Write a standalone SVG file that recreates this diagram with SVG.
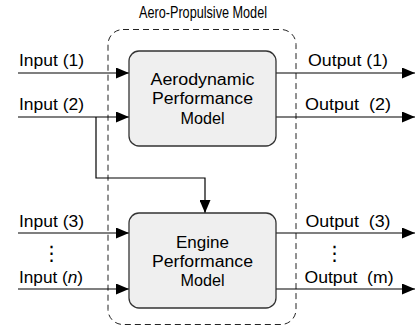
<svg xmlns="http://www.w3.org/2000/svg" width="416" height="326" viewBox="0 0 416 326">
  <style>
    .lbl { font-family: "Liberation Sans", Arial, sans-serif; font-size: 16px; fill: #000; }
    .vdots { font-family: "DejaVu Sans", sans-serif; font-size: 20px; fill: #000; text-anchor: middle; }
    .box { fill: #efefef; stroke: #333; stroke-width: 1.3; }
    .wire { fill: none; stroke: #000; stroke-width: 1.2; }
    .grp { fill: none; stroke: #222; stroke-width: 1; stroke-dasharray: 6 4; }
    .ctr { text-anchor: middle; }
  </style>
  <defs>
    <marker id="arrow" markerUnits="userSpaceOnUse" markerWidth="13" markerHeight="11" refX="13" refY="5.5" orient="auto">
      <path d="M0,0 L13,5.5 L0,11 Z" fill="#000"/>
    </marker>
  </defs>

  <rect id="background" width="416" height="326" fill="#fff"/>

  <!-- Aero-propulsive model boundary -->
  <g id="aero-propulsive-model">
    <rect class="grp" x="108" y="29.5" width="188" height="295" rx="15" ry="15"/>
    <text class="lbl" x="139" y="18" font-size="11" textLength="128" lengthAdjust="spacingAndGlyphs">Aero-Propulsive Model</text>
  </g>

  <!-- Connectors -->
  <g id="connectors">
    <line class="wire" x1="18" y1="73" x2="129" y2="73" marker-end="url(#arrow)"/>
    <line class="wire" x1="18" y1="117" x2="129" y2="117" marker-end="url(#arrow)"/>
    <polyline class="wire" points="96,117 96,178 205,178 205,213" marker-end="url(#arrow)"/>
    <line class="wire" x1="18" y1="233" x2="129" y2="233" marker-end="url(#arrow)"/>
    <line class="wire" x1="18" y1="289" x2="129" y2="289" marker-end="url(#arrow)"/>
    <line class="wire" x1="276" y1="73" x2="415" y2="73" marker-end="url(#arrow)"/>
    <line class="wire" x1="276" y1="117" x2="415" y2="117" marker-end="url(#arrow)"/>
    <line class="wire" x1="276" y1="233" x2="415" y2="233" marker-end="url(#arrow)"/>
    <line class="wire" x1="276" y1="289" x2="415" y2="289" marker-end="url(#arrow)"/>
  </g>

  <!-- Input / output labels -->
  <g id="labels">
    <text class="lbl" x="19" y="66" textLength="65" lengthAdjust="spacingAndGlyphs">Input (1)</text>
    <text class="lbl" x="19" y="110" textLength="65" lengthAdjust="spacingAndGlyphs">Input (2)</text>
    <text class="lbl" x="19" y="226.5" textLength="65" lengthAdjust="spacingAndGlyphs">Input (3)</text>
    <text class="lbl" x="19" y="282.5" textLength="64" lengthAdjust="spacingAndGlyphs">Input (<tspan font-style="italic">n</tspan>)</text>
    <text class="vdots" x="51.5" y="260">⋮</text>

    <text class="lbl" x="308" y="66" textLength="80" lengthAdjust="spacingAndGlyphs">Output (1)</text>
    <text class="lbl" x="305" y="110" style="white-space:pre" textLength="86" lengthAdjust="spacingAndGlyphs">Output  (2)</text>
    <text class="lbl" x="305.5" y="226.5" style="white-space:pre" textLength="85" lengthAdjust="spacingAndGlyphs">Output  (3)</text>
    <text class="lbl" x="304.5" y="283" style="white-space:pre" textLength="89" lengthAdjust="spacingAndGlyphs">Output  (m)</text>
    <text class="vdots" x="334.5" y="260">⋮</text>
  </g>

  <!-- Aerodynamic performance model -->
  <g id="aerodynamic-model">
    <rect class="box" x="129" y="51" width="147" height="95" rx="10" ry="10"/>
    <text class="lbl ctr" x="202.5" y="84.5" textLength="104" lengthAdjust="spacingAndGlyphs">Aerodynamic</text>
    <text class="lbl ctr" x="202.5" y="103.5" textLength="101" lengthAdjust="spacingAndGlyphs">Performance</text>
    <text class="lbl ctr" x="202.5" y="123.5" textLength="44" lengthAdjust="spacingAndGlyphs">Model</text>
  </g>

  <!-- Engine performance model -->
  <g id="engine-model">
    <rect class="box" x="129" y="213" width="147" height="95" rx="10" ry="10"/>
    <text class="lbl ctr" x="202.5" y="247.5" textLength="53" lengthAdjust="spacingAndGlyphs">Engine</text>
    <text class="lbl ctr" x="202.5" y="266.5" textLength="101" lengthAdjust="spacingAndGlyphs">Performance</text>
    <text class="lbl ctr" x="202.5" y="285.5" textLength="44" lengthAdjust="spacingAndGlyphs">Model</text>
  </g>
</svg>
